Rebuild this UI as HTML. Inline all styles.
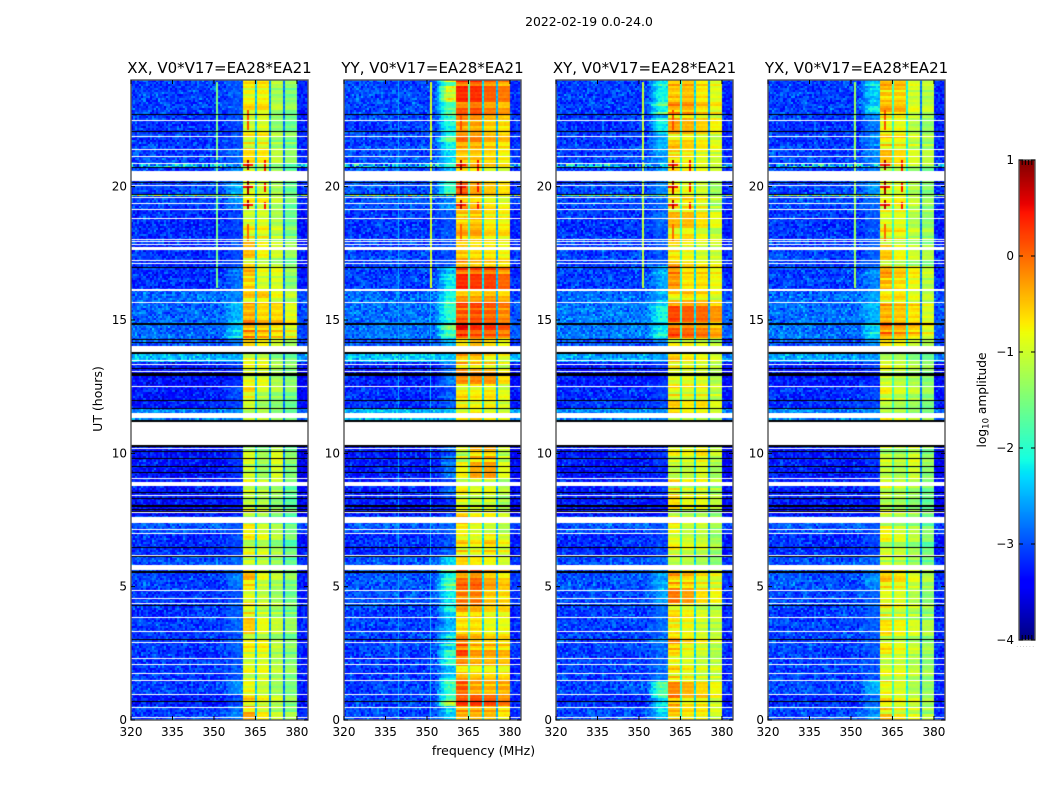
<!DOCTYPE html>
<html>
<head>
<meta charset="utf-8">
<title>2022-02-19 waterfall</title>
<style>
html,body{margin:0;padding:0;background:#fff;}
#figure{position:relative;width:1050px;height:800px;background:#fff;overflow:hidden;font-family:"DejaVu Sans","Liberation Sans",sans-serif;}
canvas{position:absolute;display:block;}
svg{position:absolute;left:0;top:0;}
text{font-family:"DejaVu Sans","Liberation Sans",sans-serif;fill:#000;}
</style>
</head>
<body>
<div id="figure">
<canvas id="c0" width="177" height="640" style="left:131px;top:80px"></canvas>
<canvas id="c1" width="177" height="640" style="left:344px;top:80px"></canvas>
<canvas id="c2" width="177" height="640" style="left:556px;top:80px"></canvas>
<canvas id="c3" width="177" height="640" style="left:768px;top:80px"></canvas>
<canvas id="cbar" width="16" height="480" style="left:1019px;top:160px"></canvas>
<svg id="overlay" width="1050" height="800"></svg>
</div>
<script>
// ---------- chart data ----------
const panelNames = ['XX', 'YY', 'XY', 'YX'];
const freqTicks = [320, 335, 350, 365, 380];
const utTicks = [0, 5, 10, 15, 20];
const cbarTicks = [1, 0, -1, -2, -3, -4];

// UT start (hours) of each time segment; the level tables below have one row per segment
const segmentStarts = [0,0.5,0.95,1.5,2.4,3.05,4.3,4.9,5.6,6.15,7.0,7.65,8.3,9.0,10.35,11.25,11.7,12.5,13.05,13.4,13.8,14.3,14.88,15.7,16.15,17.0,18.0,19.15,19.75,20.2,20.75,21.5,22.7];

// log10 amplitude per segment: [background, shoulder, band1, band2, band3, band4]
const xxLevels = [
[-3.1,-2.9,-0.6,-0.9,-1.2,-1.4],[-3.3,-3.1,-0.7,-0.9,-1.1,-1.4],[-3.1,-2.7,-0.7,-0.95,-1.2,-1.4],
[-3.15,-3.0,-1.0,-0.95,-1.2,-1.45],[-3.15,-3.0,-0.85,-0.85,-1.2,-1.45],[-3.15,-3.0,-0.8,-1.05,-1.25,-1.5],
[-3.15,-3.0,-0.8,-1.0,-1.2,-1.5],[-3.1,-2.9,-0.6,-1.0,-1.2,-1.45],[-3.0,-2.9,-1.0,-1.1,-1.3,-1.65],
[-3.2,-3.1,-1.0,-1.05,-1.3,-1.65],[-3.0,-3.0,-1.0,-1.2,-1.4,-1.75],[-3.4,-3.3,-1.0,-1.1,-1.35,-1.65],
[-3.3,-3.2,-0.95,-1.1,-1.2,-1.6],[-3.35,-3.2,-1.0,-1.3,-0.95,-1.45],[-3.3,-3.2,-1.0,-1.3,-0.95,-1.45],
[-2.75,-2.7,-1.0,-1.0,-1.3,-1.5],[-3.3,-3.1,-0.8,-1.15,-1.3,-1.5],[-3.4,-3.2,-0.85,-0.85,-1.2,-1.4],
[-3.3,-3.2,-0.9,-0.9,-1.25,-1.45],[-2.5,-2.5,-0.9,-1.0,-1.4,-1.55],[-3.0,-2.9,-0.85,-0.95,-1.2,-1.5],
[-2.9,-2.5,-0.3,-0.45,-0.6,-0.85],[-2.9,-2.5,-0.25,-0.5,-0.5,-0.8],[-2.9,-2.8,-0.7,-0.65,-0.95,-1.2],
[-3.2,-2.9,-0.55,-0.95,-0.95,-1.4],[-3.2,-3.1,-0.75,-1.0,-1.2,-1.5],[-3.2,-3.1,-0.85,-0.85,-1.1,-1.5],
[-3.1,-2.8,-0.95,-0.9,-1.2,-1.6],[-3.05,-2.6,-0.9,-1.0,-1.2,-1.6],[-3.1,-2.8,-0.95,-1.05,-1.25,-1.6],
[-3.1,-3.0,-0.9,-0.9,-1.3,-1.55],[-3.15,-3.05,-0.9,-0.85,-1.3,-1.5],[-3.1,-3.0,-0.8,-0.75,-1.25,-1.45]];
const yyLevels = [
[-3.05,-2.4,-0.25,-0.3,-0.35,-0.6],[-3.1,-2.0,0.05,0.1,0.0,-0.25],[-3.1,-2.0,0.1,-0.3,-0.4,-0.35],
[-3.15,-2.5,-0.5,-0.6,-0.65,-0.7],[-3.1,-2.4,-0.05,-0.45,-0.5,-0.6],[-3.1,-2.5,-0.5,-0.55,-0.75,-0.75],
[-3.0,-2.3,-0.1,-0.1,-0.5,-0.6],[-3.0,-2.1,-0.1,-0.05,-0.4,-0.6],[-3.0,-2.6,-0.85,-0.9,-1.0,-1.2],
[-3.2,-3.0,-0.7,-0.8,-0.65,-0.9],[-3.0,-2.9,-0.55,-0.8,-0.95,-1.1],[-3.35,-3.2,-0.85,-1.0,-0.95,-1.2],
[-3.25,-3.0,-0.85,-1.0,-0.95,-1.2],[-3.3,-3.0,-1.05,-0.55,-0.5,-1.1],[-3.3,-3.0,-1.05,-0.55,-0.5,-1.1],
[-2.5,-2.4,-0.9,-0.7,-0.9,-1.0],[-3.2,-3.0,-0.75,-0.8,-0.75,-0.95],[-3.3,-3.0,-0.5,-0.4,-0.45,-0.85],
[-3.3,-3.0,-0.5,-0.6,-0.7,-1.0],[-2.4,-2.4,-0.5,-0.5,-0.8,-0.95],[-3.0,-2.5,-0.5,-0.3,-0.5,-0.7],
[-2.85,-2.0,0.3,0.15,0.1,-0.05],[-2.85,-2.1,0.1,0.15,0.05,-0.15],[-2.9,-2.2,-0.3,-0.35,-0.3,-0.45],
[-3.1,-2.6,0.05,0.05,0.0,-0.2],[-3.1,-3.0,-0.4,-0.55,-0.6,-0.7],[-3.15,-3.0,-0.5,-0.45,-0.7,-0.75],
[-3.0,-2.7,-0.35,-0.5,-0.7,-0.85],[-3.0,-2.4,-0.25,-0.55,-0.7,-0.85],[-3.0,-2.5,-0.6,-0.7,-0.9,-1.0],
[-3.05,-2.3,-0.35,-0.4,-0.5,-0.65],[-3.1,-2.2,-0.25,-0.3,-0.5,-0.6],[-3.05,-1.9,0.05,0.1,-0.15,-0.3]];
const xyLevels = [
[-3.05,-2.5,-0.6,-0.75,-0.8,-1.05],[-3.2,-2.4,-0.3,-0.65,-0.65,-0.9],[-3.05,-2.3,-0.45,-0.6,-0.8,-1.0],
[-3.1,-2.9,-0.7,-0.85,-1.0,-1.05],[-3.1,-2.9,-0.45,-0.75,-0.9,-1.1],[-3.1,-2.9,-0.7,-0.8,-1.0,-1.1],
[-3.05,-2.8,-0.35,-0.5,-0.85,-1.0],[-3.0,-2.7,-0.45,-0.55,-0.8,-0.95],[-3.0,-2.9,-0.95,-1.0,-1.1,-1.3],
[-3.2,-3.1,-0.9,-1.0,-1.05,-1.3],[-3.0,-3.0,-0.85,-1.1,-1.1,-1.3],[-3.35,-3.3,-0.9,-1.05,-1.05,-1.3],
[-3.25,-3.2,-0.85,-1.0,-1.0,-1.25],[-3.3,-3.2,-0.95,-0.95,-0.8,-1.15],[-3.3,-3.2,-0.95,-0.95,-0.8,-1.15],
[-2.7,-2.7,-0.9,-0.95,-1.0,-1.2],[-3.2,-3.1,-0.8,-0.9,-0.85,-1.1],[-3.3,-3.2,-0.8,-0.8,-0.85,-1.1],
[-3.3,-3.2,-0.75,-0.85,-0.9,-1.1],[-2.6,-2.6,-0.7,-0.85,-0.95,-1.1],[-3.0,-2.8,-0.8,-0.8,-0.9,-1.1],
[-2.8,-2.3,0.05,-0.05,-0.15,-0.4],[-2.8,-2.4,-0.1,-0.15,-0.2,-0.45],[-2.9,-2.6,-0.75,-0.6,-0.7,-0.95],
[-3.1,-2.6,-0.1,-0.55,-0.55,-0.7],[-3.1,-3.0,-0.65,-0.8,-0.95,-1.0],[-3.15,-3.0,-0.7,-0.65,-0.85,-1.05],
[-3.05,-2.9,-0.85,-0.7,-0.85,-1.2],[-3.05,-2.7,-0.6,-0.75,-0.9,-1.2],[-3.05,-2.8,-0.85,-0.9,-1.0,-1.2],
[-3.1,-2.7,-0.6,-0.7,-0.85,-0.95],[-3.15,-2.6,-0.6,-0.6,-0.75,-0.95],[-3.1,-2.2,-0.35,-0.35,-0.6,-0.8]];
const yxLevels = [
[-3.05,-2.8,-0.75,-0.9,-1.05,-1.3],[-3.2,-2.9,-0.7,-0.85,-1.0,-1.25],[-3.05,-2.5,-0.7,-0.85,-1.1,-1.25],
[-3.1,-3.0,-1.0,-0.95,-1.15,-1.35],[-3.1,-3.0,-0.8,-0.9,-1.1,-1.3],[-3.1,-3.0,-0.95,-1.0,-1.15,-1.35],
[-3.05,-2.9,-0.7,-0.8,-1.05,-1.3],[-3.0,-2.8,-0.65,-0.75,-1.0,-1.25],[-3.0,-2.9,-1.05,-1.1,-1.3,-1.55],
[-3.2,-3.1,-1.05,-1.1,-1.3,-1.6],[-3.0,-3.0,-1.05,-1.2,-1.35,-1.6],[-3.35,-3.3,-1.05,-1.15,-1.3,-1.55],
[-3.25,-3.2,-1.0,-1.1,-1.25,-1.5],[-3.3,-3.2,-1.1,-1.2,-1.0,-1.4],[-3.3,-3.2,-1.1,-1.2,-1.0,-1.4],
[-2.75,-2.7,-1.05,-1.1,-1.3,-1.45],[-3.2,-3.1,-0.95,-1.1,-1.2,-1.4],[-3.3,-3.2,-1.0,-1.1,-1.2,-1.4],
[-3.3,-3.2,-1.0,-1.1,-1.25,-1.4],[-2.6,-2.6,-0.95,-1.05,-1.3,-1.45],[-3.0,-2.8,-0.9,-0.95,-1.2,-1.4],
[-2.85,-2.4,-0.15,-0.3,-0.5,-0.85],[-2.85,-2.5,-0.25,-0.4,-0.55,-0.85],[-2.9,-2.7,-0.85,-0.75,-1.0,-1.2],
[-3.1,-2.8,-0.4,-0.6,-0.8,-1.1],[-3.1,-3.0,-0.8,-1.0,-1.2,-1.35],[-3.15,-3.0,-0.8,-0.8,-1.1,-1.3],
[-3.05,-2.9,-0.95,-0.85,-1.15,-1.4],[-3.05,-2.7,-0.85,-0.9,-1.15,-1.4],[-3.05,-2.8,-0.95,-1.0,-1.2,-1.4],
[-3.1,-2.9,-0.75,-0.85,-1.15,-1.3],[-3.15,-2.8,-0.7,-0.75,-1.05,-1.25],[-3.1,-2.5,-0.5,-0.55,-1.0,-1.15]];
const panelLevels = [xxLevels, yyLevels, xyLevels, yxLevels];

// band notches: centre frequencies (MHz) and log10 amplitude in each panel
const notchFreqs = [365.1, 370.2, 375.3];
const xxNotches = [-2.4, -2.6, -2.8];
const yyNotches = [-1.8, -2.3, -2.5];
const xyNotches = [-2.0, -2.3, -2.6];
const yxNotches = [-1.9, -2.1, -2.8];
const panelNotches = [xxNotches, yyNotches, xyNotches, yxNotches];

// narrow-band interference: [MHz, UT from, UT to, log10 amplitude]
const xxRfiLines = [[350.8,16.2,20.9,-1.55],[350.8,21.0,23.9,-1.5]];
const yyRfiLines = [[351,16.2,20.9,-0.95],[351,21.0,23.9,-0.95],[351,0,16.1,-2.45],[339.5,0,24,-2.55]];
const xyRfiLines = [[351,16.2,20.9,-1.1],[351,21.0,23.9,-1.05]];
const yxRfiLines = [[351,16.2,20.9,-1.3],[351,21.0,23.9,-1.3]];
const panelRfiLines = [xxRfiLines, yyRfiLines, xyRfiLines, yxRfiLines];

// bright spots in the band: [UT, MHz, UT half-height, MHz half-width, log10 amplitude]
const rfiSpots = [
[20.8,362.3,0.2,0.5,0.8],[20.8,362.3,0.05,1.6,0.45],[20.0,362.3,0.28,0.5,0.85],[20.0,362.3,0.06,2.0,0.5],
[19.3,362.3,0.18,0.5,0.8],[19.3,362.3,0.05,1.6,0.45],[20.8,368.4,0.22,0.5,0.45],[20.0,368.4,0.2,0.5,0.45],
[19.25,368.4,0.15,0.5,0.45],[22.5,362.3,0.4,0.3,0.15],[18.25,362.3,0.35,0.3,0.0]];

// rows with broadband sparkle: [UT, log10 amplitude]
const hotRows = [[19.68,-1.55],[20.78,-2.6]];

// UT of flagged rows
const flagGaps = [[20.21,20.59],[13.80,14.04],[11.34,11.51],[10.33,11.23],[8.78,8.93],[7.39,7.61],[5.62,5.81],[16.09,16.16],[17.64,17.69],[4.83,4.88],[19.56,19.62]];
const whiteLines = [22.49,21.89,21.40,21.14,20.90,20.06,19.38,19.15,18.81,18.05,17.95,17.85,17.75,17.24,17.13,15.69,13.49,13.34,13.09,12.53,11.70,10.20,9.08,8.44,7.80,7.16,7.01,6.19,4.58,4.38,3.85,3.33,2.92,2.34,2.09,1.75,1.49,0.96,0.48,0.10];
const blackLines = [22.72,22.08,20.75,20.19,20.16,19.74,16.98,14.88,14.85,14.28,14.16,13.79,13.76,13.19,13.01,12.97,12.92,12.0,11.70,11.25,11.23,10.31,10.29,10.09,9.83,9.53,9.30,8.55,8.33,8.05,8.01,7.93,7.84,6.49,6.15,5.59,5.56,4.31,3.04,0.72];

// measured-looking texture tables (log10 residuals)
const speckleA = [0.12,-0.18,0.05,0.31,-0.07,-0.22,0.16,0.02,-0.26,0.09,0.27,-0.12,-0.03,0.2,-0.2,0.07,0.34,-0.15,-0.05,0.11,-0.24,0.18,0.0,-0.1,0.25,-0.17,0.06,0.14,-0.28,0.22,-0.04,0.03,0.29,-0.19,-0.08,0.15,-0.13,0.08,0.24,-0.23,0.01,0.19,-0.11,-0.02,0.33,-0.16,0.1,-0.21,0.04,0.17,-0.06,0.26,-0.25,0.13,-0.09,0.21,-0.14,0.0,0.3,-0.27,0.07];
const speckleB = [-0.08,0.14,-0.2,0.03,0.22,-0.12,0.09,-0.02,0.28,-0.17,0.06,-0.24,0.16,0.01,-0.09,0.2,-0.15,0.11,0.31,-0.05,-0.21,0.08,0.17,-0.13,0.02,0.25,-0.19,0.05,-0.07,0.13,-0.26,0.19,0.0,-0.11,0.23,-0.16,0.1,0.04,-0.22,0.27,-0.03,0.12,-0.18,0.07,-0.06,0.18,-0.14,0.29,-0.23,0.03,0.15,-0.1,0.09];
const rowStreak = [0.14,-0.2,0.05,0.22,-0.1,-0.24,0.18,-0.04,0.1,0.25,-0.16,0.02,-0.22,0.12,0.2,-0.08,-0.18,0.07,0.24,-0.13,0.0,-0.25,0.16,0.09,-0.06,0.21,-0.2,-0.02,0.13,-0.15,0.23,0.04,-0.23,0.11,-0.05,0.19,-0.12,0.08,0.26,-0.19,-0.07,0.15,0.01,-0.17,0.2,-0.09,0.06];

// ---------- scales ----------
const PLOT_W = 177, PLOT_H = 640;
const FREQ_MIN = 320, FREQ_MAX = 384, UT_MAX = 24;
const CH_MHZ = 0.75, ROW_H = 0.075;
function xScale(f){ return (f - FREQ_MIN) / (FREQ_MAX - FREQ_MIN) * PLOT_W; }
function yScale(u){ return PLOT_H - u / UT_MAX * PLOT_H; }

function lerpStops(s, t){
  for (let i = 1; i < s.length; i++) {
    if (t <= s[i][0]) {
      const k = (t - s[i-1][0]) / (s[i][0] - s[i-1][0]);
      return s[i-1][1] + k * (s[i][1] - s[i-1][1]);
    }
  }
  return s[s.length-1][1];
}
const jetR = [[0,0],[0.35,0],[0.66,1],[0.89,1],[1,0.5]];
const jetG = [[0,0],[0.125,0],[0.375,1],[0.64,1],[0.91,0],[1,0]];
const jetB = [[0,0.5],[0.11,1],[0.34,1],[0.65,0],[1,0]];
function colorOf(v){
  const t = Math.max(0, Math.min(1, (v + 4) / 5));
  return 'rgb(' + Math.round(255*lerpStops(jetR,t)) + ',' + Math.round(255*lerpStops(jetG,t)) + ',' + Math.round(255*lerpStops(jetB,t)) + ')';
}
function segmentIndex(u){
  let s = 0;
  for (let i = 0; i < segmentStarts.length; i++) if (u >= segmentStarts[i]) s = i;
  return s;
}
function cellValue(p, f, u, c, r){
  const row = panelLevels[p][segmentIndex(u)];
  const n1 = speckleA[(c*c*3 + r*7 + c*r) % speckleA.length];
  const n2 = speckleB[(r*r*5 + c*11 + p*3) % speckleB.length];
  const noise = (n1 + n2) * 0.9;
  const streak = rowStreak[(r*3 + p) % rowStreak.length];
  let v;
  if (f >= 360.5 && f < 380) {
    const b = f < notchFreqs[0] ? 2 : f < notchFreqs[1] ? 3 : f < notchFreqs[2] ? 4 : 5;
    v = row[b] + streak * (b === 2 ? 1.5 : 1.1) + noise*0.14;
  } else if (f >= 353 && f < 360.5) {
    const k = f >= 357 ? 1 : (f - 353) / 4;
    v = row[0] + (row[1] - row[0]) * k + noise * (1 - 0.5*k) + Math.max(0, streak) * k * (row[1] - row[0]) * 4;
  } else if (f >= 380) {
    v = row[0] - 0.12 + noise*0.8 + streak*0.1;
  } else {
    v = row[0] + noise + streak*0.04;
  }
  for (const h of hotRows) {
    if (Math.abs(u - h[0]) < ROW_H * 0.6 && (f < 360.5 || f >= 380)) v = Math.max(v, h[1] + noise*2.5);
  }
  for (const s of rfiSpots) {
    if (Math.abs(u - s[0]) <= s[2] && Math.abs(f - s[1]) <= s[3]) v = Math.max(v, s[4]);
  }
  return v;
}

// ---------- heatmaps ----------
panelNames.forEach(function(name, p){
  const ctx = document.getElementById('c' + p).getContext('2d');
  const rows = Math.ceil(UT_MAX / ROW_H), cols = Math.ceil((FREQ_MAX - FREQ_MIN) / CH_MHZ);
  for (let r = 0; r < rows; r++) {
    const u0 = r * ROW_H, u1 = u0 + ROW_H, um = u0 + ROW_H / 2;
    const yTop = Math.round(yScale(u1)), yBot = Math.round(yScale(u0));
    for (let c = 0; c < cols; c++) {
      const f0 = FREQ_MIN + c * CH_MHZ;
      const x0 = Math.round(xScale(f0)), x1 = Math.round(xScale(f0 + CH_MHZ));
      ctx.fillStyle = colorOf(cellValue(p, f0 + CH_MHZ/2, um, c, r));
      ctx.fillRect(x0, yTop, x1 - x0, yBot - yTop);
    }
    const jitter = rowStreak[r % rowStreak.length];
    notchFreqs.forEach(function(nf, i){
      ctx.fillStyle = colorOf(panelNotches[p][i] + jitter * 0.6);
      ctx.fillRect(Math.round(xScale(nf)) - 1, yTop, 2, yBot - yTop);
    });
    panelRfiLines[p].forEach(function(l){
      if (um >= l[1] && um <= l[2]) {
        ctx.fillStyle = colorOf(l[3] + jitter * 0.25);
        ctx.fillRect(Math.round(xScale(l[0])), yTop, l[3] > -2 ? 2 : 1, yBot - yTop);
      }
    });
  }
  ctx.fillStyle = '#fff';
  flagGaps.forEach(function(g){
    const yTop = Math.round(yScale(g[1])), yBot = Math.round(yScale(g[0]));
    ctx.fillRect(0, yTop, PLOT_W, Math.max(1, yBot - yTop));
  });
  whiteLines.forEach(function(u){ ctx.fillRect(0, Math.round(yScale(u)), PLOT_W, 1); });
  ctx.fillStyle = '#000';
  blackLines.forEach(function(u){ ctx.fillRect(0, Math.round(yScale(u)), PLOT_W, 1); });
});

// ---------- colorbar gradient ----------
(function(){
  const ctx = document.getElementById('cbar').getContext('2d');
  const cMax = cbarTicks[0], cMin = cbarTicks[cbarTicks.length - 1];
  for (let y = 0; y < 480; y++) {
    ctx.fillStyle = colorOf(cMax - (y + 0.5) / 480 * (cMax - cMin));
    ctx.fillRect(0, y, 16, 1);
  }
})();

// ---------- axes and text ----------
const NS = 'http://www.w3.org/2000/svg';
const svg = document.getElementById('overlay');
const panelLefts = [131, 344, 556, 768];
const PLOT_TOP = 80;
function addText(str, x, y, size, anchor, name){
  const el = document.createElementNS(NS, 'text');
  
  
  el.setAttribute('x', x);
  el.setAttribute('y', y);
  el.setAttribute('font-size', size);
  el.setAttribute('text-anchor', anchor);
  el.textContent = str;
  svg.appendChild(el);
  return el;
}
function addLine(x1, y1, x2, y2, name, color, w){
  const el = document.createElementNS(NS, 'line');
  
  
  el.setAttribute('x1', x1);
  el.setAttribute('y1', y1);
  el.setAttribute('x2', x2);
  el.setAttribute('y2', y2);
  el.setAttribute('stroke', color || '#000');
  el.setAttribute('stroke-width', w || 1);
  svg.appendChild(el);
}
function addFrame(x, y, w, h, name){
  const el = document.createElementNS(NS, 'rect');
  
  
  el.setAttribute('x', x);
  el.setAttribute('y', y);
  el.setAttribute('width', w);
  el.setAttribute('height', h);
  el.setAttribute('fill', 'none');
  el.setAttribute('stroke', '#555');
  el.setAttribute('stroke-width', 1.4);
  svg.appendChild(el);
}
panelNames.forEach(function(name, p){
  const L = panelLefts[p], key = name.toLowerCase();
  addFrame(L, PLOT_TOP, PLOT_W, PLOT_H, key + '-frame');
  addText(name + ', V0*V17=EA28*EA21', L + PLOT_W/2, 73, 15, 'middle', key + '-title');
  freqTicks.forEach(function(f){
    const x = L + xScale(f);
    addLine(x, PLOT_TOP + PLOT_H, x, PLOT_TOP + PLOT_H - 4, key + '-x-tick', '#000', 1);
    addLine(x, PLOT_TOP, x, PLOT_TOP + 4, key + '-x-tick-top', '#000', 1);
    addText(String(f), x, 736, 12, 'middle', key + '-x-tick-label');
  });
  utTicks.forEach(function(u){
    const y = PLOT_TOP + yScale(u);
    addLine(L, y, L + 4, y, key + '-y-tick', '#000', 1);
    addLine(L + PLOT_W, y, L + PLOT_W - 4, y, key + '-y-tick-right', '#000', 1);
    addText(String(u), L - 4, y + 4, 12, 'end', key + '-y-tick-label');
  });
});
addText('2022-02-19 0.0-24.0', 589, 26, 12.4, 'middle', 'figure-title');
addText('frequency (MHz)', 483.5, 755, 12.5, 'middle', 'x-axis-title');
const utLabel = addText('UT (hours)', 0, 0, 12.5, 'middle', 'y-axis-title');
utLabel.setAttribute('transform', 'translate(102,399) rotate(-90)');

// colorbar
const CB_L = 1019, CB_T = 160, CB_W = 16, CB_H = 480;
function cbScale(v){ return CB_T + (cbarTicks[0] - v) / (cbarTicks[0] - cbarTicks[cbarTicks.length-1]) * CB_H; }
addFrame(CB_L, CB_T, CB_W, CB_H, 'colorbar-frame');
cbarTicks.forEach(function(v){
  const y = cbScale(v);
  addLine(CB_L, y, CB_L + 4, y, 'colorbar-tick', '#000', 1);
  addLine(CB_L + CB_W, y, CB_L + CB_W - 4, y, 'colorbar-tick-right', '#000', 1);
  addText(v < 0 ? '\u2212' + Math.abs(v) : String(v), CB_L - 5, y + 4, 12, 'end', 'colorbar-tick-label');
});
for (let i = 1; i < 5; i++) {
  const x = CB_L + i * 3.2;
  addLine(x, CB_T, x, CB_T + 5, 'colorbar-top-tick', '#000', 1);
  addLine(x, CB_T + CB_H, x, CB_T + CB_H - 5, 'colorbar-bottom-tick', '#000', 1);
}
const cbDots = addText('......', CB_L + CB_W/2 - 1, 647, 5, 'middle', 'colorbar-x-tick-marks');
cbDots.setAttribute('letter-spacing', '1.6');
cbDots.style.fill = '#777';
const cbLabel = addText('', 0, 0, 12.2, 'middle', 'colorbar-label');
cbLabel.setAttribute('transform', 'translate(986,400) rotate(-90)');
const t1 = document.createElementNS(NS, 'tspan');
t1.textContent = 'log';
cbLabel.appendChild(t1);
const t2 = document.createElementNS(NS, 'tspan');
t2.setAttribute('font-size', '8.5');
t2.setAttribute('dy', '2.5');
t2.textContent = '10';
cbLabel.appendChild(t2);
const t3 = document.createElementNS(NS, 'tspan');
t3.setAttribute('dy', '-2.5');
t3.textContent = ' amplitude';
cbLabel.appendChild(t3);
</script>
</body>
</html>
